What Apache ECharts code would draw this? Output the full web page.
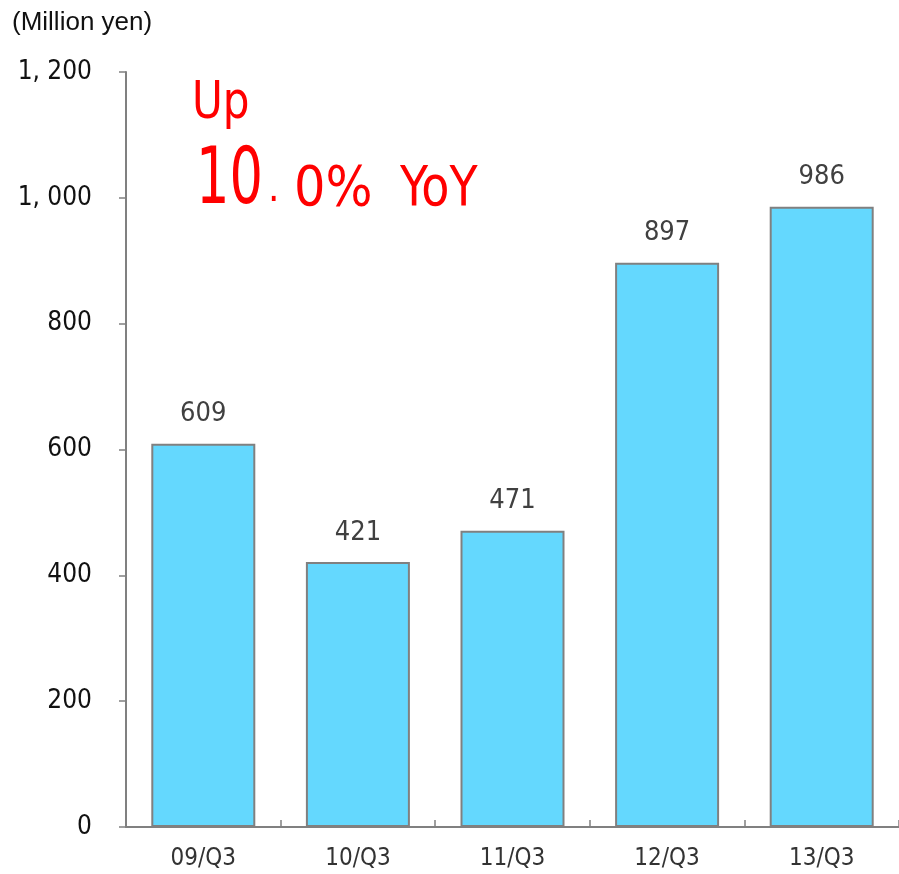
<!DOCTYPE html>
<html>
<head>
<meta charset="utf-8">
<script src="https://cdn.jsdelivr.net/npm/echarts@6/dist/echarts.min.js"></script>
<style>
  html, body { margin: 0; padding: 0; background: #ffffff; }
  #chart { width: 899px; height: 874px; }
</style>
</head>
<body>
<div id="chart"></div>
<script>
// Quarterly figures (million yen)
const categories = ['09/Q3', '10/Q3', '11/Q3', '12/Q3', '13/Q3'];
const values = [609, 421, 471, 897, 986];
const yTicks = [0, 200, 400, 600, 800, 1000, 1200];

const NARROW = '"DejaVu Sans Condensed", "Liberation Sans Narrow", sans-serif';
const RED = '#ff0000';

function formatTick(v) {
  if (v >= 1000) {
    const rest = String(v % 1000).padStart(3, '0');
    return Math.floor(v / 1000) + ', ' + rest;
  }
  return String(v);
}

// Red headline pieces, drawn left to right
function headline(text, x, y, size, scaleX) {
  return {
    type: 'text', x: x, y: y, scaleX: scaleX || 1, z: 10,
    style: {
      text: text, fill: RED, font: size + 'px ' + NARROW,
      textAlign: 'left', textVerticalAlign: 'middle'
    }
  };
}

const chart = echarts.init(document.getElementById('chart'), null, { renderer: 'canvas' });

chart.setOption({
  animation: false,
  backgroundColor: '#ffffff',
  grid: { left: 126, top: 72, width: 774, bottom: 47, containLabel: false },
  xAxis: {
    type: 'category',
    data: categories,
    boundaryGap: true,
    axisLine: { lineStyle: { color: '#808080', width: 2 } },
    axisTick: { show: true, inside: true, length: 7, alignWithLabel: false, lineStyle: { color: '#808080', width: 1.5 } },
    axisLabel: { color: '#333333', fontFamily: NARROW, fontSize: 24, margin: 20 }
  },
  yAxis: {
    type: 'value',
    min: yTicks[0],
    max: yTicks[yTicks.length - 1],
    interval: yTicks[1] - yTicks[0],
    axisLine: { show: true, lineStyle: { color: '#808080', width: 2 } },
    axisTick: { show: true, inside: false, length: 7, lineStyle: { color: '#808080', width: 1.5 } },
    splitLine: { show: false },
    axisLabel: { color: '#111111', fontFamily: NARROW, fontSize: 26, margin: 34, formatter: formatTick }
  },
  series: [{
    type: 'bar',
    data: values,
    barWidth: 104,
    itemStyle: { color: '#64D8FE', borderColor: '#808080', borderWidth: 2 },
    label: {
      show: true,
      position: 'top',
      distance: 16,
      color: '#404040',
      fontFamily: NARROW,
      fontSize: 27
    }
  }],
  graphic: [
    headline('Up', 192, 104, 52, 0.9),
    headline('10', 196, 183, 78, 0.75),
    headline('.', 268, 191, 40, 1),
    headline('0%', 294, 191, 55, 1),
    headline('YoY', 400, 191, 55, 0.93),
    {
      type: 'text', left: 12, top: 10,
      style: { text: '(Million yen)', fill: '#111111', font: '26px "Liberation Sans", Arial, sans-serif' }
    }
  ]
});
</script>
</body>
</html>
